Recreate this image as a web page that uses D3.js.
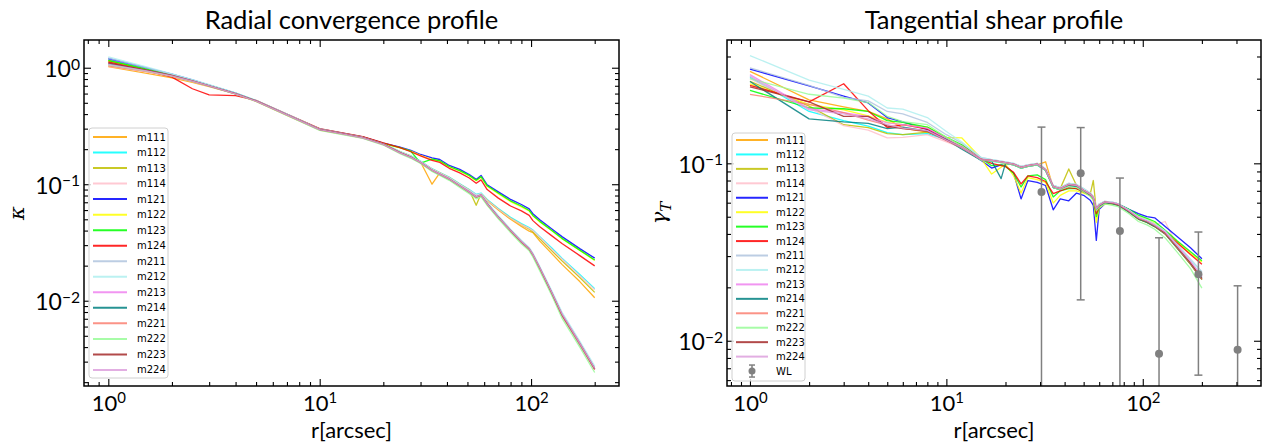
<!DOCTYPE html>
<html>
<head>
<meta charset="utf-8">
<script src="https://cdn.jsdelivr.net/npm/d3@7"></script>
<style>
  body { margin: 0; background: #fff; }
  svg { display: block; font-family: Lato, "DejaVu Sans", sans-serif; }
</style>
</head>
<body>
<script>
// ---- data ----
const models = ['m111','m112','m113','m114','m121','m122','m123','m124',
                'm211','m212','m213','m214','m221','m222','m223','m224'];
const modelColors = ['#ffa500','#00ffff','#bfbf00','#ffc0cb','#0000ff','#ffff00','#00ff00','#ff0000',
                     '#b0c4de','#afeeee','#ee82ee','#008080','#fa8072','#98fb98','#a52a2a','#dda0dd'];

// radial convergence profile
const rKappa = [1, 1.5, 2, 2.5, 3, 4, 5, 7, 10, 13, 16, 20, 24, 27, 30, 34, 37, 41, 46, 51, 55, 58, 62, 70, 80, 90, 98, 102, 110, 125, 140, 170, 200];
const kappa_m111 = [1.02, 0.90, 0.82, 0.75, 0.69, 0.595, 0.515, 0.39, 0.292, 0.268, 0.25, 0.22, 0.188, 0.172, 0.155, 0.10, 0.125, 0.112, 0.098, 0.088, 0.08, 0.082, 0.072, 0.06, 0.05, 0.0435, 0.0395, 0.0385, 0.0325, 0.0255, 0.0205, 0.0146, 0.0106];
const kappa_m112 = [1.17, 0.98, 0.87, 0.78, 0.71, 0.605, 0.522, 0.397, 0.297, 0.271, 0.253, 0.223, 0.191, 0.175, 0.158, 0.136, 0.126, 0.115, 0.101, 0.09, 0.082, 0.084, 0.074, 0.062, 0.052, 0.046, 0.0425, 0.0405, 0.0355, 0.0285, 0.0232, 0.0168, 0.0127];
const kappa_m113 = [1.16, 0.97, 0.865, 0.775, 0.705, 0.6, 0.52, 0.395, 0.295, 0.27, 0.251, 0.221, 0.19, 0.174, 0.156, 0.135, 0.125, 0.114, 0.1, 0.089, 0.066, 0.083, 0.073, 0.061, 0.051, 0.045, 0.0412, 0.039, 0.034, 0.027, 0.022, 0.0158, 0.0118];
const kappa_m114 = [1.03, 0.92, 0.84, 0.76, 0.695, 0.598, 0.518, 0.393, 0.294, 0.27, 0.252, 0.222, 0.19, 0.174, 0.157, 0.135, 0.125, 0.114, 0.1, 0.089, 0.081, 0.083, 0.073, 0.061, 0.051, 0.045, 0.0418, 0.04, 0.035, 0.0278, 0.0228, 0.0164, 0.0124];
const kappa_m121 = [1.20, 1.0, 0.88, 0.785, 0.71, 0.605, 0.522, 0.398, 0.298, 0.273, 0.255, 0.225, 0.208, 0.195, 0.18, 0.168, 0.163, 0.145, 0.134, 0.121, 0.11, 0.119, 0.099, 0.086, 0.074, 0.067, 0.0615, 0.0558, 0.0495, 0.0415, 0.0355, 0.028, 0.0232];
const kappa_m122 = [1.14, 0.97, 0.865, 0.775, 0.705, 0.6, 0.52, 0.396, 0.296, 0.271, 0.253, 0.223, 0.205, 0.192, 0.177, 0.163, 0.158, 0.141, 0.13, 0.118, 0.107, 0.115, 0.096, 0.083, 0.071, 0.064, 0.059, 0.0535, 0.0475, 0.04, 0.034, 0.027, 0.0222];
const kappa_m123 = [1.15, 0.975, 0.87, 0.78, 0.707, 0.602, 0.52, 0.396, 0.297, 0.272, 0.254, 0.224, 0.206, 0.192, 0.152, 0.164, 0.159, 0.142, 0.131, 0.119, 0.108, 0.116, 0.097, 0.084, 0.072, 0.065, 0.0595, 0.054, 0.048, 0.0403, 0.0343, 0.0272, 0.0224];
const kappa_m124 = [1.12, 0.95, 0.83, 0.66, 0.585, 0.575, 0.525, 0.40, 0.30, 0.275, 0.256, 0.226, 0.206, 0.19, 0.175, 0.16, 0.154, 0.137, 0.125, 0.113, 0.102, 0.109, 0.09, 0.076, 0.065, 0.059, 0.054, 0.0487, 0.0432, 0.0362, 0.031, 0.0244, 0.0199];
const kappa_m211 = [1.21, 1.0, 0.875, 0.78, 0.708, 0.603, 0.521, 0.396, 0.296, 0.27, 0.251, 0.22, 0.188, 0.172, 0.155, 0.133, 0.123, 0.112, 0.098, 0.087, 0.079, 0.082, 0.069, 0.053, 0.0405, 0.0325, 0.0282, 0.0252, 0.0193, 0.012, 0.0078, 0.0044, 0.00268];
const kappa_m212 = [1.24, 1.02, 0.885, 0.79, 0.715, 0.607, 0.525, 0.4, 0.298, 0.272, 0.253, 0.222, 0.189, 0.173, 0.157, 0.134, 0.124, 0.113, 0.099, 0.088, 0.08, 0.083, 0.07, 0.054, 0.0412, 0.033, 0.0287, 0.0256, 0.0197, 0.0123, 0.008, 0.0045, 0.00275];
const kappa_m213 = [1.09, 0.955, 0.855, 0.77, 0.698, 0.598, 0.518, 0.394, 0.294, 0.269, 0.25, 0.22, 0.186, 0.17, 0.154, 0.132, 0.122, 0.111, 0.097, 0.086, 0.078, 0.081, 0.068, 0.052, 0.04, 0.032, 0.0278, 0.0248, 0.019, 0.0118, 0.0076, 0.0043, 0.0026];
const kappa_m214 = [1.08, 0.95, 0.852, 0.768, 0.697, 0.597, 0.518, 0.394, 0.294, 0.269, 0.25, 0.22, 0.186, 0.17, 0.153, 0.131, 0.121, 0.11, 0.096, 0.085, 0.077, 0.08, 0.068, 0.052, 0.0398, 0.0318, 0.0276, 0.0246, 0.0188, 0.0117, 0.0075, 0.0042, 0.00258];
const kappa_m221 = [1.04, 0.93, 0.845, 0.765, 0.696, 0.596, 0.517, 0.393, 0.293, 0.268, 0.249, 0.219, 0.185, 0.169, 0.153, 0.131, 0.121, 0.11, 0.096, 0.085, 0.077, 0.08, 0.067, 0.0515, 0.0395, 0.0315, 0.0274, 0.0244, 0.0186, 0.0116, 0.0074, 0.0042, 0.00255];
const kappa_m222 = [1.06, 0.94, 0.848, 0.765, 0.695, 0.594, 0.514, 0.39, 0.29, 0.265, 0.247, 0.217, 0.183, 0.167, 0.151, 0.129, 0.119, 0.108, 0.094, 0.083, 0.075, 0.078, 0.066, 0.0505, 0.0385, 0.0308, 0.0268, 0.0238, 0.018, 0.0112, 0.0071, 0.004, 0.00242];
const kappa_m223 = [1.10, 0.96, 0.86, 0.77, 0.7, 0.599, 0.519, 0.395, 0.295, 0.27, 0.251, 0.221, 0.187, 0.171, 0.154, 0.132, 0.122, 0.111, 0.097, 0.086, 0.078, 0.081, 0.068, 0.0522, 0.0401, 0.0321, 0.0279, 0.0249, 0.0191, 0.0118, 0.0076, 0.0043, 0.0026];
const kappa_m224 = [1.07, 0.945, 0.85, 0.767, 0.697, 0.597, 0.517, 0.394, 0.294, 0.269, 0.25, 0.22, 0.186, 0.17, 0.154, 0.132, 0.122, 0.111, 0.097, 0.086, 0.078, 0.081, 0.068, 0.0522, 0.0402, 0.0322, 0.028, 0.025, 0.0192, 0.0119, 0.0077, 0.0043, 0.00262];

// tangential shear profile
const rGamma = [1, 2, 3, 4, 5, 6, 8, 10, 12, 15, 17, 19, 20, 22, 24, 26, 29, 32, 35, 38, 42, 46, 50, 54, 56, 58, 60, 64, 70, 75, 85, 95, 105, 115, 130, 150, 175, 200];
const gamma_m111 = [0.33, 0.228, 0.208, 0.196, 0.178, 0.158, 0.15, 0.137, 0.125, 0.106, 0.104, 0.101, 0.1, 0.098, 0.094, 0.096, 0.098, 0.102, 0.073, 0.071, 0.075, 0.074, 0.07, 0.066, 0.063, 0.055, 0.057, 0.06, 0.059, 0.058, 0.053, 0.0485, 0.0465, 0.044, 0.04, 0.0332, 0.027, 0.0222];
const gamma_m112 = [0.305, 0.196, 0.174, 0.162, 0.149, 0.145, 0.147, 0.136, 0.123, 0.104, 0.103, 0.101, 0.1, 0.098, 0.094, 0.096, 0.098, 0.091, 0.073, 0.071, 0.075, 0.074, 0.07, 0.066, 0.063, 0.055, 0.0575, 0.06, 0.0595, 0.058, 0.0535, 0.049, 0.047, 0.0445, 0.0405, 0.0336, 0.0275, 0.0226];
const gamma_m113 = [0.29, 0.21, 0.165, 0.159, 0.147, 0.145, 0.15, 0.138, 0.125, 0.105, 0.104, 0.102, 0.1, 0.099, 0.095, 0.097, 0.099, 0.092, 0.074, 0.072, 0.093, 0.075, 0.0705, 0.067, 0.08, 0.054, 0.058, 0.0605, 0.0598, 0.0585, 0.0535, 0.0485, 0.0465, 0.044, 0.04, 0.0333, 0.027, 0.0221];
const gamma_m114 = [0.30, 0.205, 0.163, 0.154, 0.139, 0.14, 0.145, 0.132, 0.122, 0.105, 0.104, 0.102, 0.101, 0.099, 0.096, 0.098, 0.1, 0.093, 0.075, 0.073, 0.077, 0.076, 0.0715, 0.068, 0.065, 0.056, 0.059, 0.061, 0.0605, 0.059, 0.0545, 0.0495, 0.0475, 0.045, 0.047, 0.034, 0.0278, 0.0228];
const gamma_m121 = [0.34, 0.273, 0.239, 0.219, 0.181, 0.171, 0.155, 0.136, 0.124, 0.104, 0.094, 0.098, 0.097, 0.088, 0.063, 0.08, 0.078, 0.075, 0.0547, 0.063, 0.0615, 0.068, 0.066, 0.062, 0.058, 0.0368, 0.055, 0.059, 0.06, 0.059, 0.055, 0.052, 0.05, 0.0493, 0.044, 0.0386, 0.0334, 0.029];
const gamma_m122 = [0.28, 0.215, 0.2, 0.185, 0.17, 0.165, 0.16, 0.14, 0.139, 0.107, 0.087, 0.095, 0.099, 0.085, 0.068, 0.083, 0.081, 0.078, 0.0597, 0.066, 0.07, 0.07, 0.068, 0.066, 0.062, 0.0464, 0.056, 0.059, 0.059, 0.058, 0.054, 0.05, 0.048, 0.046, 0.041, 0.036, 0.031, 0.0278];
const gamma_m123 = [0.258, 0.205, 0.203, 0.196, 0.174, 0.17, 0.16, 0.14, 0.127, 0.107, 0.097, 0.098, 0.096, 0.088, 0.0735, 0.085, 0.086, 0.081, 0.0646, 0.07, 0.072, 0.072, 0.069, 0.066, 0.063, 0.05, 0.057, 0.06, 0.06, 0.059, 0.055, 0.051, 0.049, 0.047, 0.042, 0.0365, 0.0317, 0.0282];
const gamma_m124 = [0.275, 0.222, 0.281, 0.198, 0.159, 0.165, 0.156, 0.138, 0.125, 0.106, 0.1, 0.097, 0.096, 0.089, 0.0765, 0.085, 0.083, 0.079, 0.0675, 0.07, 0.073, 0.072, 0.069, 0.066, 0.063, 0.052, 0.057, 0.06, 0.06, 0.058, 0.054, 0.049, 0.047, 0.045, 0.041, 0.0356, 0.0306, 0.027];
const gamma_m211 = [0.345, 0.275, 0.235, 0.225, 0.196, 0.19, 0.17, 0.145, 0.13, 0.108, 0.105, 0.103, 0.102, 0.1, 0.096, 0.098, 0.1, 0.093, 0.075, 0.073, 0.077, 0.076, 0.072, 0.068, 0.065, 0.056, 0.059, 0.061, 0.0605, 0.059, 0.0545, 0.0498, 0.0478, 0.0455, 0.0415, 0.0348, 0.0288, 0.0245];
const gamma_m212 = [0.405, 0.294, 0.261, 0.239, 0.205, 0.202, 0.181, 0.151, 0.132, 0.108, 0.105, 0.103, 0.102, 0.1, 0.096, 0.098, 0.1, 0.093, 0.075, 0.073, 0.077, 0.076, 0.072, 0.068, 0.065, 0.056, 0.059, 0.061, 0.0605, 0.059, 0.0545, 0.0498, 0.0478, 0.0455, 0.0415, 0.0346, 0.0285, 0.0243];
const gamma_m213 = [0.316, 0.203, 0.193, 0.183, 0.169, 0.165, 0.158, 0.138, 0.125, 0.106, 0.104, 0.102, 0.101, 0.099, 0.095, 0.097, 0.099, 0.092, 0.074, 0.072, 0.076, 0.075, 0.0705, 0.067, 0.064, 0.0555, 0.058, 0.0605, 0.06, 0.0588, 0.054, 0.0493, 0.0473, 0.0448, 0.0408, 0.034, 0.0278, 0.0229];
const gamma_m214 = [0.289, 0.178, 0.171, 0.168, 0.157, 0.16, 0.152, 0.136, 0.12, 0.104, 0.103, 0.082, 0.1, 0.098, 0.094, 0.096, 0.098, 0.091, 0.073, 0.071, 0.075, 0.074, 0.07, 0.066, 0.063, 0.055, 0.057, 0.06, 0.059, 0.058, 0.053, 0.0485, 0.0465, 0.044, 0.04, 0.0332, 0.0271, 0.0222];
const gamma_m221 = [0.245, 0.215, 0.193, 0.175, 0.164, 0.158, 0.152, 0.134, 0.122, 0.105, 0.104, 0.102, 0.101, 0.099, 0.095, 0.097, 0.099, 0.092, 0.074, 0.072, 0.076, 0.075, 0.0705, 0.067, 0.064, 0.0555, 0.058, 0.0605, 0.0598, 0.0585, 0.0537, 0.049, 0.047, 0.0445, 0.0403, 0.0335, 0.0273, 0.0222];
const gamma_m222 = [0.30, 0.245, 0.233, 0.22, 0.184, 0.172, 0.165, 0.14, 0.125, 0.104, 0.103, 0.101, 0.1, 0.098, 0.094, 0.096, 0.098, 0.091, 0.073, 0.071, 0.074, 0.073, 0.069, 0.065, 0.062, 0.054, 0.0565, 0.059, 0.058, 0.057, 0.052, 0.047, 0.045, 0.0425, 0.038, 0.0315, 0.0255, 0.0198];
const gamma_m223 = [0.27, 0.222, 0.184, 0.184, 0.162, 0.157, 0.152, 0.135, 0.123, 0.105, 0.104, 0.102, 0.101, 0.099, 0.095, 0.097, 0.099, 0.092, 0.074, 0.072, 0.076, 0.075, 0.0705, 0.067, 0.064, 0.0555, 0.058, 0.0605, 0.0598, 0.0585, 0.0537, 0.049, 0.047, 0.0445, 0.0405, 0.0337, 0.0275, 0.0225];
const gamma_m224 = [0.31, 0.2, 0.19, 0.178, 0.165, 0.158, 0.153, 0.135, 0.123, 0.105, 0.104, 0.102, 0.101, 0.099, 0.095, 0.097, 0.099, 0.092, 0.074, 0.072, 0.076, 0.075, 0.0705, 0.067, 0.064, 0.0555, 0.058, 0.0605, 0.06, 0.0588, 0.054, 0.0493, 0.0473, 0.0448, 0.041, 0.0342, 0.028, 0.0231];

// weak lensing measurement (symmetric errors)
const wlR = [30.5, 48.3, 76.5, 121, 192, 304];
const wlGamma = [0.069, 0.088, 0.0416, 0.00845, 0.0237, 0.0089];
const wlErr = [0.091, 0.071, 0.041, 0.0296, 0.0173, 0.0115];

const majorX = [1, 10, 100];
const kappaMajorY = [1, 0.1, 0.01];
const gammaMajorY = [0.1, 0.01];

(function(){
	const SVG_WIDTH = 1263;
	const SVG_HEIGHT = 443;
	const TOP = 40, BOTTOM = 386;

	const svg = d3.select('body').append('svg')
		.attr('width', SVG_WIDTH)
		.attr('height', SVG_HEIGHT);

	const kappaSeries = [kappa_m111, kappa_m112, kappa_m113, kappa_m114, kappa_m121, kappa_m122, kappa_m123, kappa_m124,
		kappa_m211, kappa_m212, kappa_m213, kappa_m214, kappa_m221, kappa_m222, kappa_m223, kappa_m224];
	const gammaSeries = [gamma_m111, gamma_m112, gamma_m113, gamma_m114, gamma_m121, gamma_m122, gamma_m123, gamma_m124,
		gamma_m211, gamma_m212, gamma_m213, gamma_m214, gamma_m221, gamma_m222, gamma_m223, gamma_m224];

	// minor ticks of a log axis inside a domain
	function minorTicks(domain){
		var out = [];
		var lo = Math.floor(Math.log10(domain[0])), hi = Math.ceil(Math.log10(domain[1]));
		for(var e = lo; e <= hi; e++){
			for(var m = 2; m <= 9; m++){
				var v = m * Math.pow(10, e);
				if(v >= domain[0] && v <= domain[1]) out.push(v);
			}
		}
		return out;
	}

	// "10^e" label with a raised exponent
	function powerLabel(text){
		text.each(function(d){
			var e = Math.round(Math.log10(d));
			var t = d3.select(this).text(null);
			t.append('tspan').text('10');
			t.append('tspan').attr('dy', '-0.5em').attr('font-size', '0.68em')
				.text(e < 0 ? '\u2212' + (-e) : String(e));
		});
	}

	function panel(cfg){
		const x = d3.scaleLog().domain(cfg.xDomain).range([cfg.left, cfg.right]);
		const y = d3.scaleLog().domain(cfg.yDomain).range([BOTTOM, TOP]);
		const g = svg.append('g');
		const clipId = 'clip-' + cfg.id;

		g.append('clipPath').attr('id', clipId)
			.append('rect')
			.attr('x', cfg.left).attr('y', TOP)
			.attr('width', cfg.right - cfg.left).attr('height', BOTTOM - TOP);

		// curves
		const line = d3.line()
			.x(function(d){ return x(d[0]); })
			.y(function(d){ return y(d[1]); });
		const plot = g.append('g').attr('clip-path', 'url(#' + clipId + ')');
		plot.selectAll('path.model')
			.data(cfg.series)
			.enter().append('path')
			.attr('class', 'model')
			.attr('fill', 'none')
			.attr('stroke', function(d, i){ return modelColors[i]; })
			.attr('stroke-width', 1.3)
			.attr('stroke-opacity', 0.85)
			.attr('stroke-linejoin', 'round')
			.attr('d', function(d){ return line(d3.zip(cfg.r, d)); });

		// weak lensing points with error bars
		if(cfg.wl){
			const wl = d3.zip(wlR, wlGamma, wlErr);
			const bottomVal = cfg.yDomain[0] * 0.5;
			const grp = plot.selectAll('g.wl').data(wl).enter().append('g').attr('class', 'wl');
			grp.append('line')
				.attr('x1', function(d){ return x(d[0]); })
				.attr('x2', function(d){ return x(d[0]); })
				.attr('y1', function(d){ return y(d[1] + d[2]); })
				.attr('y2', function(d){ return y(d[1] - d[2] > 0 ? d[1] - d[2] : bottomVal); })
				.attr('stroke', 'grey').attr('stroke-width', 1.5);
			grp.append('line')
				.attr('x1', function(d){ return x(d[0]) - 4; })
				.attr('x2', function(d){ return x(d[0]) + 4; })
				.attr('y1', function(d){ return y(d[1] + d[2]); })
				.attr('y2', function(d){ return y(d[1] + d[2]); })
				.attr('stroke', 'grey').attr('stroke-width', 1.5);
			grp.filter(function(d){ return d[1] - d[2] > 0; }).append('line')
				.attr('x1', function(d){ return x(d[0]) - 4; })
				.attr('x2', function(d){ return x(d[0]) + 4; })
				.attr('y1', function(d){ return y(d[1] - d[2]); })
				.attr('y2', function(d){ return y(d[1] - d[2]); })
				.attr('stroke', 'grey').attr('stroke-width', 1.5);
			grp.append('circle')
				.attr('cx', function(d){ return x(d[0]); })
				.attr('cy', function(d){ return y(d[1]); })
				.attr('r', 4).attr('fill', 'grey');
		}

		// frame
		g.append('rect')
			.attr('x', cfg.left).attr('y', TOP)
			.attr('width', cfg.right - cfg.left).attr('height', BOTTOM - TOP)
			.attr('fill', 'none').attr('stroke', '#000').attr('stroke-width', 1.5);

		// ticks, all pointing inward
		const xMinor = minorTicks(cfg.xDomain), yMinor = minorTicks(cfg.yDomain);
		function tickStyle(sel){
			sel.select('.domain').remove();
			sel.selectAll('.tick line').attr('stroke', '#000').attr('stroke-width', 1.1);
		}
		g.append('g').attr('transform', 'translate(0,' + BOTTOM + ')')
			.call(d3.axisBottom(x).tickValues(xMinor).tickSize(-4).tickFormat('')).call(tickStyle);
		g.append('g').attr('transform', 'translate(0,' + TOP + ')')
			.call(d3.axisTop(x).tickValues(xMinor).tickSize(-4).tickFormat('')).call(tickStyle);
		g.append('g').attr('transform', 'translate(0,' + TOP + ')')
			.call(d3.axisTop(x).tickValues(majorX).tickSize(-7).tickFormat('')).call(tickStyle);
		g.append('g').attr('transform', 'translate(' + cfg.left + ',0)')
			.call(d3.axisLeft(y).tickValues(yMinor).tickSize(-4).tickFormat('')).call(tickStyle);
		g.append('g').attr('transform', 'translate(' + cfg.right + ',0)')
			.call(d3.axisRight(y).tickValues(yMinor).tickSize(-4).tickFormat('')).call(tickStyle);
		g.append('g').attr('transform', 'translate(' + cfg.right + ',0)')
			.call(d3.axisRight(y).tickValues(cfg.yMajor).tickSize(-7).tickFormat('')).call(tickStyle);

		const xAxis = g.append('g').attr('transform', 'translate(0,' + BOTTOM + ')')
			.call(d3.axisBottom(x).tickValues(majorX).tickSize(-7).tickPadding(9).tickFormat(String))
			.call(tickStyle);
		xAxis.selectAll('.tick text')
			.attr('font-family', 'Lato, sans-serif').attr('font-size', 22).attr('fill', '#000')
			.attr('dy', '0.72em').call(powerLabel);

		const yAxis = g.append('g').attr('transform', 'translate(' + cfg.left + ',0)')
			.call(d3.axisLeft(y).tickValues(cfg.yMajor).tickSize(-7).tickPadding(4).tickFormat(String))
			.call(tickStyle);
		yAxis.selectAll('.tick text')
			.attr('font-family', 'Lato, sans-serif').attr('font-size', 23).attr('fill', '#000')
			.attr('dy', '0.4em').call(powerLabel);

		// titles and labels
		const cx = (cfg.left + cfg.right) / 2;
		g.append('text').attr('x', cx).attr('y', 29)
			.attr('text-anchor', 'middle').attr('font-size', 25.5).text(cfg.title);
		g.append('text').attr('x', cx).attr('y', 438)
			.attr('text-anchor', 'middle').attr('font-size', 22).text('r[arcsec]');
		const yl = g.append('text')
			.attr('transform', 'translate(' + cfg.ylabelX + ',213) rotate(-90)')
			.attr('text-anchor', 'middle')
			.attr('font-family', '"DejaVu Serif", serif').attr('font-style', 'italic')
			.attr('font-size', 21);
		yl.append('tspan').text(cfg.ylabel);
		if(cfg.ysub) yl.append('tspan').attr('dy', '0.3em').attr('font-size', 15).text(cfg.ysub);

		// legend
		const L = cfg.legend;
		const names = cfg.wl ? models.concat(['WL']) : models;
		const lg = g.append('g');
		lg.append('rect')
			.attr('x', L.x).attr('y', L.y).attr('width', L.w).attr('height', L.h)
			.attr('rx', 3).attr('fill', '#fff').attr('fill-opacity', 0.8)
			.attr('stroke', '#d0d0d0').attr('stroke-width', 1);
		const item = lg.selectAll('g.item').data(names).enter().append('g')
			.attr('class', 'item')
			.attr('transform', function(d, i){ return 'translate(0,' + (L.first + i * L.step) + ')'; });
		item.filter(function(d){ return d !== 'WL'; }).append('line')
			.attr('x1', L.lx1).attr('x2', L.lx2)
			.attr('stroke', function(d, i){ return modelColors[i]; })
			.attr('stroke-opacity', 0.85).attr('stroke-width', 2);
		const wlItem = item.filter(function(d){ return d === 'WL'; });
		const mid = (L.lx1 + L.lx2) / 2;
		wlItem.append('line').attr('x1', mid).attr('x2', mid).attr('y1', -6).attr('y2', 6)
			.attr('stroke', 'grey').attr('stroke-width', 1.5);
		wlItem.append('line').attr('x1', mid - 3).attr('x2', mid + 3).attr('y1', -6).attr('y2', -6)
			.attr('stroke', 'grey').attr('stroke-width', 1.5);
		wlItem.append('line').attr('x1', mid - 3).attr('x2', mid + 3).attr('y1', 6).attr('y2', 6)
			.attr('stroke', 'grey').attr('stroke-width', 1.5);
		wlItem.append('circle').attr('cx', mid).attr('r', 3.5).attr('fill', 'grey');
		item.append('text')
			.attr('x', L.tx).attr('dy', '0.35em')
			.attr('font-family', '"DejaVu Sans", sans-serif').attr('font-size', 10)
			.text(function(d){ return d; });
	}

	panel({
		id: 'kappa', left: 84, right: 619,
		xDomain: [Math.pow(10, -0.115), Math.pow(10, 2.416)],
		yDomain: [Math.pow(10, -2.732), Math.pow(10, 0.238)],
		yMajor: kappaMajorY,
		r: rKappa, series: kappaSeries, wl: false,
		title: 'Radial convergence profile', ylabel: '\u03ba', ylabelX: 24,
		legend: { x: 89, y: 128, w: 79, h: 250, first: 137, step: 15.53, lx1: 93, lx2: 127, tx: 137 }
	});

	panel({
		id: 'gamma', left: 727, right: 1261,
		xDomain: [Math.pow(10, -0.117), Math.pow(10, 2.602)],
		yDomain: [Math.pow(10, -2.255), Math.pow(10, -0.305)],
		yMajor: gammaMajorY,
		r: rGamma, series: gammaSeries, wl: true,
		title: 'Tangential shear profile', ylabel: '\u03b3', ysub: 'T', ylabelX: 666,
		legend: { x: 732, y: 133, w: 73, h: 248, first: 140, step: 14.44, lx1: 736, lx2: 768, tx: 776 }
	});
})();
</script>
</body>
</html>
